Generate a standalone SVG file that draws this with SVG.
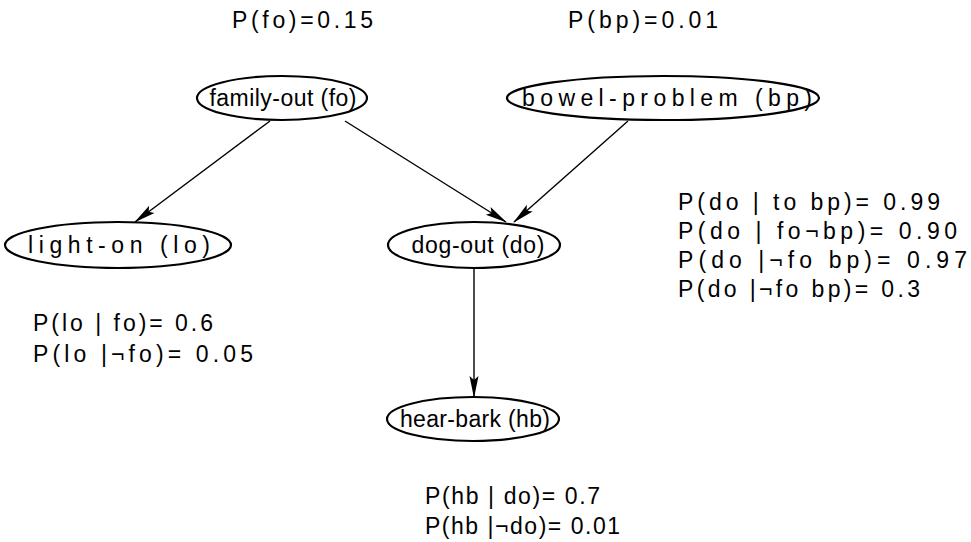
<svg xmlns="http://www.w3.org/2000/svg" width="971" height="542" viewBox="0 0 971 542">
  <style>
    .node ellipse { fill: #ffffff; stroke: #000000; stroke-width: 2.2; }
    .label { font-family: "Liberation Sans", Arial, sans-serif; font-size: 23px; fill: #000000; }
    .node text { text-anchor: middle; }
    .edge { stroke: #000000; stroke-width: 1.4; fill: none; marker-end: url(#arrow); }
  </style>
  <defs>
    <marker id="arrow" markerUnits="userSpaceOnUse" markerWidth="22" markerHeight="12" viewBox="0 0 22 12" refX="21" refY="6" orient="auto">
      <path d="M0,1.5 L22,6 L0,10.5 L4,6 Z" fill="#000000"/>
    </marker>
  </defs>
  <rect width="971" height="542" fill="#ffffff"/>

  <!-- connectors -->
  <g id="edges">
    <line class="edge" x1="270" y1="121" x2="135" y2="222"/>
    <line class="edge" x1="345" y1="121" x2="506" y2="222"/>
    <line class="edge" x1="628" y1="121" x2="514" y2="222"/>
    <line class="edge" x1="474" y1="268" x2="474" y2="397"/>
  </g>

  <!-- nodes -->
  <g id="family-out" class="node">
    <ellipse cx="282" cy="98" rx="85" ry="22"/>
    <text class="label" x="283" y="106" textLength="147" lengthAdjust="spacing">family-out (fo)</text>
  </g>
  <g id="bowel-problem" class="node">
    <ellipse cx="663" cy="98" rx="156" ry="22"/>
    <text class="label" x="667" y="106" textLength="290" lengthAdjust="spacing">bowel-problem (bp)</text>
  </g>
  <g id="light-on" class="node">
    <ellipse cx="118" cy="245" rx="113" ry="23"/>
    <text class="label" x="119" y="253" textLength="182" lengthAdjust="spacing">light-on (lo)</text>
  </g>
  <g id="dog-out" class="node">
    <ellipse cx="474" cy="245" rx="86" ry="23"/>
    <text class="label" x="478" y="253" textLength="133" lengthAdjust="spacing">dog-out (do)</text>
  </g>
  <g id="hear-bark" class="node">
    <ellipse cx="473" cy="419" rx="86" ry="22"/>
    <text class="label" x="475" y="427" textLength="150" lengthAdjust="spacing">hear-bark (hb)</text>
  </g>

  <!-- probability tables -->
  <g id="priors">
    <text class="label" x="232" y="28" textLength="141" lengthAdjust="spacing">P(fo)=0.15</text>
    <text class="label" x="568" y="28" textLength="150" lengthAdjust="spacing">P(bp)=0.01</text>
  </g>
  <g id="cpt-do">
    <text class="label" x="678" y="210" textLength="262" lengthAdjust="spacing">P(do | to bp)= 0.99</text>
    <text class="label" x="678" y="239" textLength="279" lengthAdjust="spacing">P(do | fo¬bp)= 0.90</text>
    <text class="label" x="678" y="268" textLength="289" lengthAdjust="spacing">P(do |¬fo bp)= 0.97</text>
    <text class="label" x="678" y="297" textLength="242" lengthAdjust="spacing">P(do |¬fo bp)= 0.3</text>
  </g>
  <g id="cpt-lo">
    <text class="label" x="33" y="331" textLength="180" lengthAdjust="spacing">P(lo | fo)= 0.6</text>
    <text class="label" x="33" y="362" textLength="220" lengthAdjust="spacing">P(lo |¬fo)= 0.05</text>
  </g>
  <g id="cpt-hb">
    <text class="label" x="425" y="504" textLength="175" lengthAdjust="spacing">P(hb | do)= 0.7</text>
    <text class="label" x="425" y="534" textLength="195" lengthAdjust="spacing">P(hb |¬do)= 0.01</text>
  </g>
</svg>
